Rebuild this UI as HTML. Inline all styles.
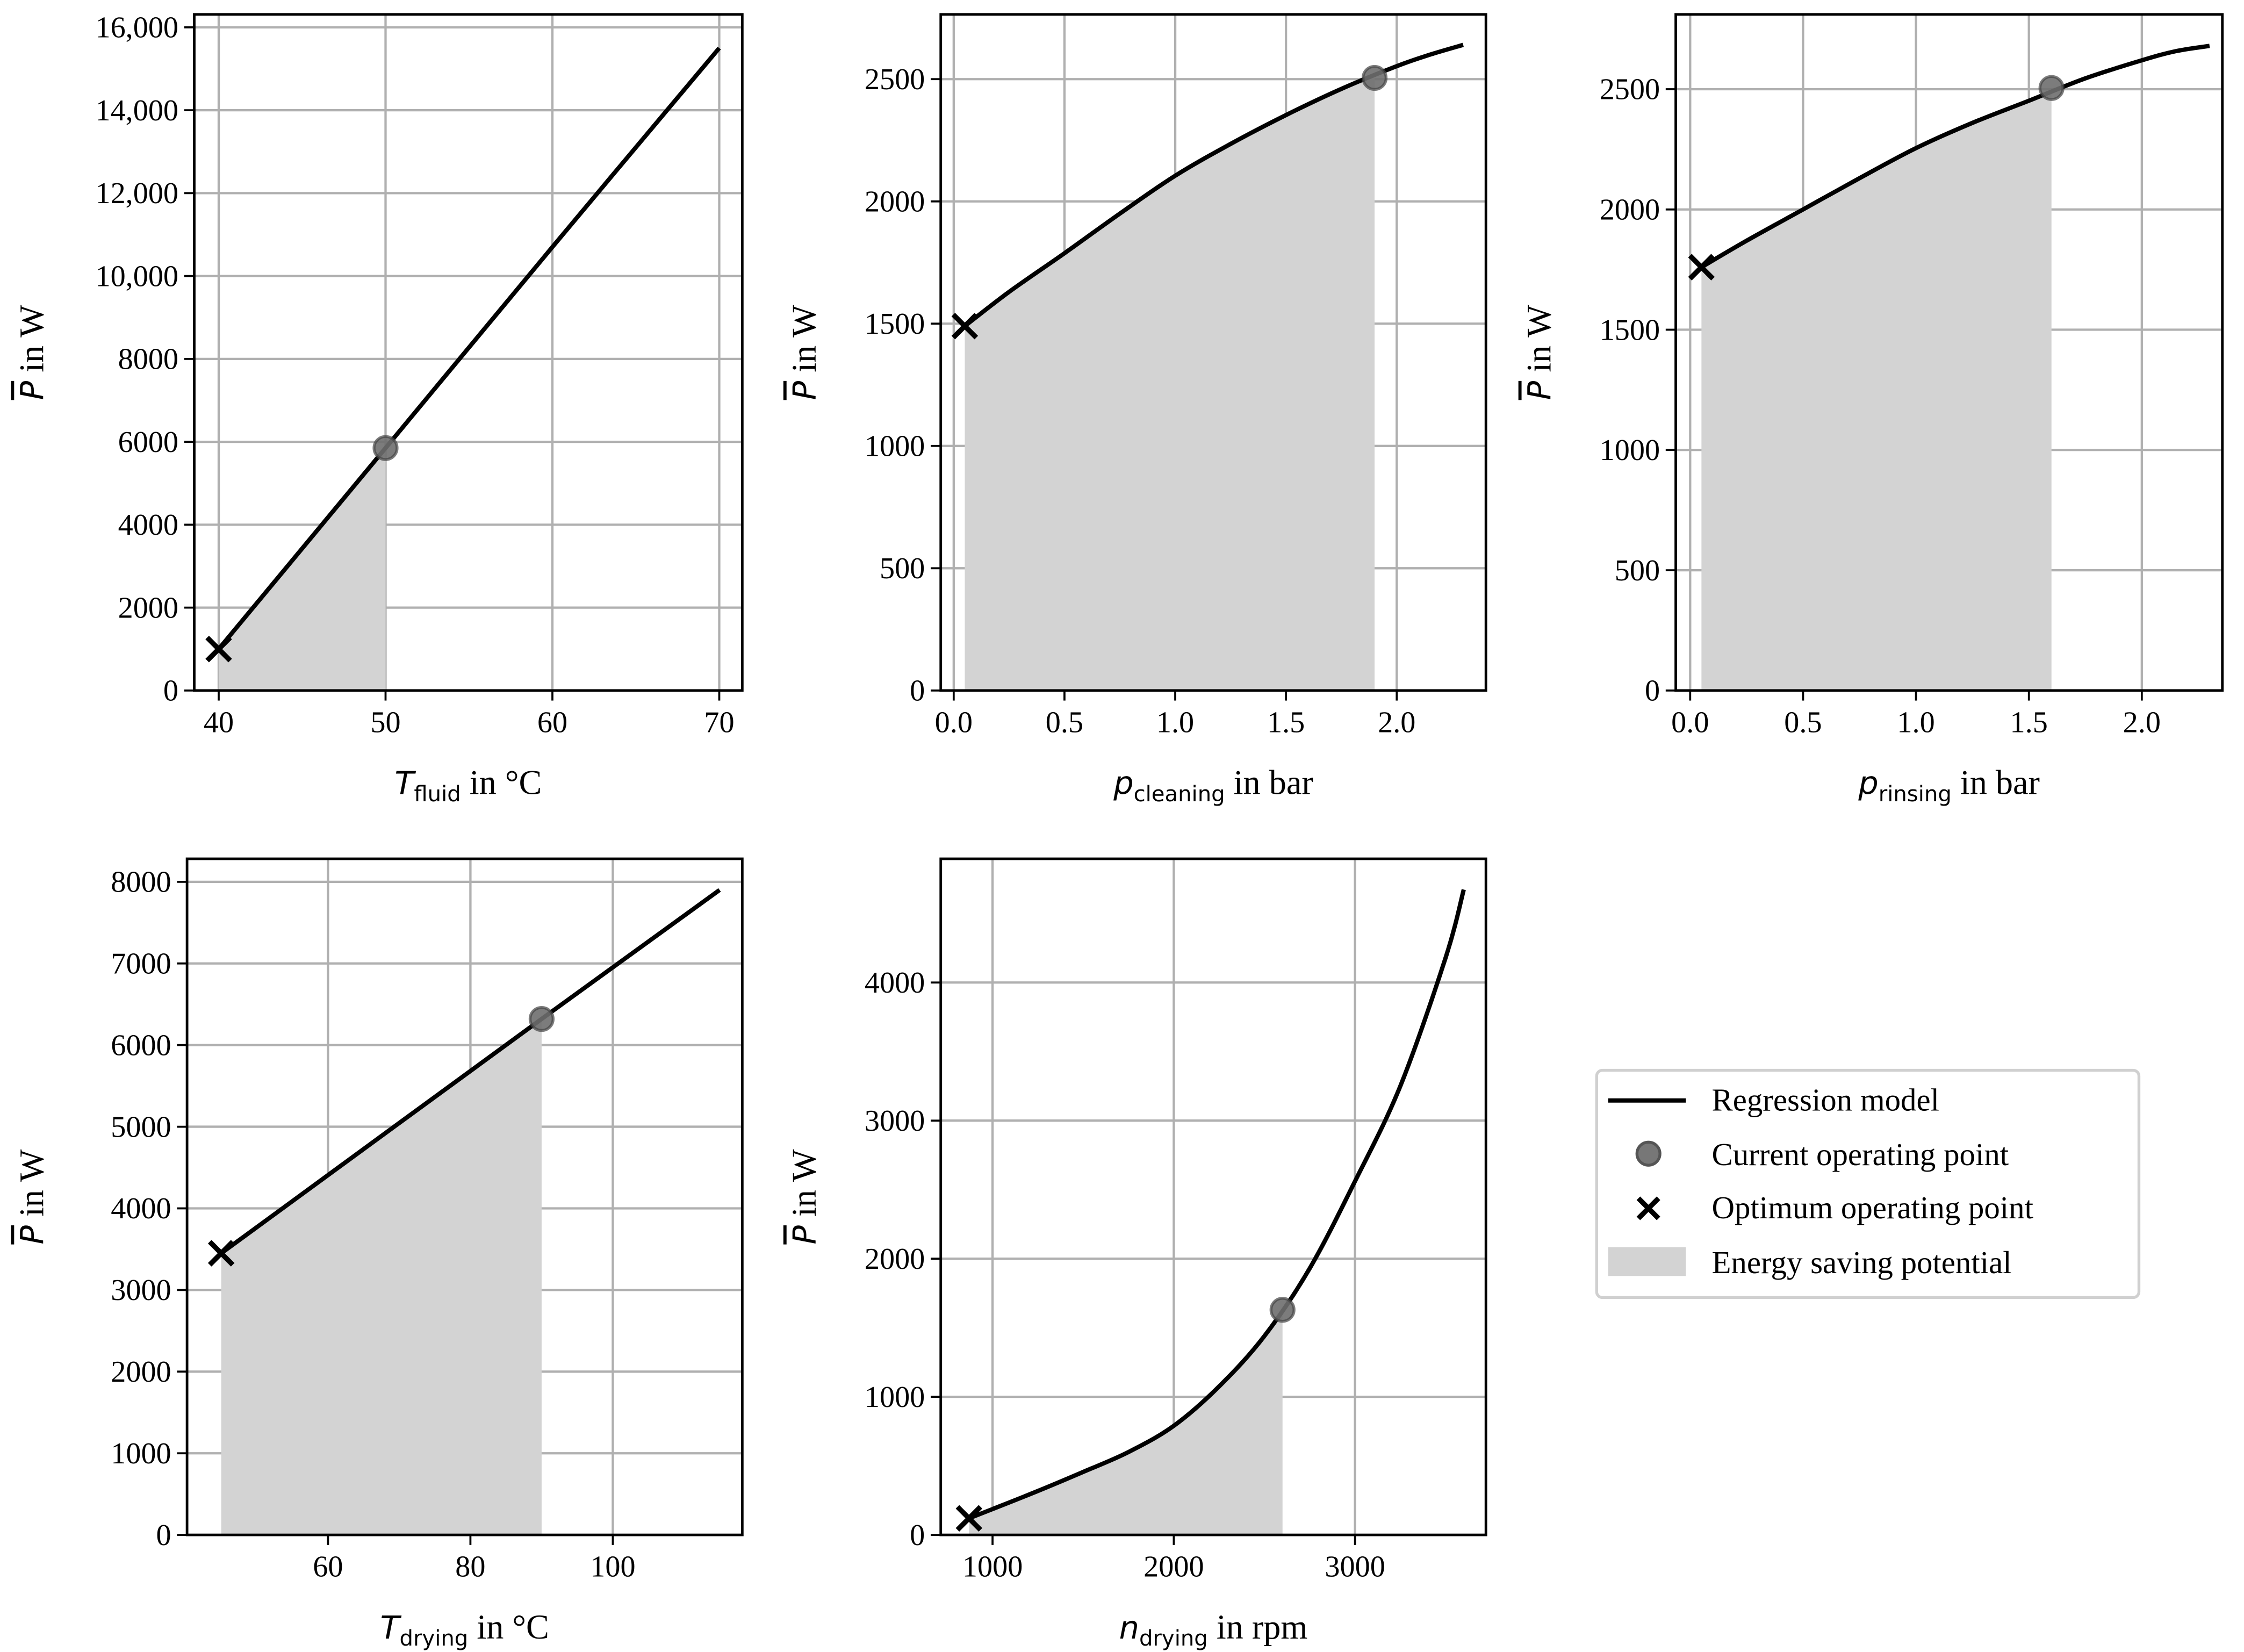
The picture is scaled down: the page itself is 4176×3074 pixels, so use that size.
<!DOCTYPE html>
<html><head><meta charset="utf-8"><style>
html,body{margin:0;padding:0;background:#fff}
svg{display:block}
text{font-family:"Liberation Serif",serif;fill:#000}
</style></head><body>
<svg id="fig" xmlns="http://www.w3.org/2000/svg" width="4176" height="3074" viewBox="0 0 1560 1148.4">
<rect width="1560" height="1148.4" fill="#fff"/>
<g id="legend">
  <rect x="1110" y="744" width="377" height="158" rx="4" fill="#fff" stroke="#d0d0d0" stroke-width="2"/>
  <g><line x1="1118" y1="765" x2="1172" y2="765" stroke="#000" stroke-width="3"/><text x="1190" y="772" font-size="22">Regression model</text></g>
  <g><circle cx="1146" cy="802" r="8" fill="#777" stroke="#555" stroke-width="2"/><text x="1190" y="810" font-size="22">Current operating point</text></g>
  <g><path d="M1139,833 L1153,847 M1153,833 L1139,847" stroke="#000" stroke-width="3.5"/><text x="1190" y="847" font-size="22">Optimum operating point</text></g>
  <g><rect x="1118" y="867" width="54" height="20" fill="#d3d3d3"/><text x="1190" y="885" font-size="22">Energy saving potential</text></g>
</g>
</svg>
<script>
// Panel 1: T_fluid
const p1X = [40, 50, 60, 70];
const p1Y = [1000, 5850, 10700, 15500];
const p1XTicks = [40, 50, 60, 70];
const p1YTicks = [0, 2000, 4000, 6000, 8000, 10000, 12000, 14000, 16000];
const p1YTickLabels = ["0","2000","4000","6000","8000","10,000","12,000","14,000","16,000"];
const p1Current = [50, 5850];
const p1Optimum = [40, 1000];
// Panel 2: p_cleaning
const p2X = [0.05, 0.25, 0.5, 0.75, 1.0, 1.25, 1.5, 1.75, 2.0, 2.15, 2.3];
const p2Y = [1490, 1630, 1788, 1950, 2105, 2235, 2353, 2460, 2553, 2600, 2640];
const p2XTicks = [0, 0.5, 1.0, 1.5, 2.0];
const p2XTickLabels = ["0.0","0.5","1.0","1.5","2.0"];
const p2YTicks = [0, 500, 1000, 1500, 2000, 2500];
const p2Current = [1.9, 2505];
const p2Optimum = [0.05, 1490];
// Panel 3: p_rinsing
const p3X = [0.05, 0.25, 0.5, 0.75, 1.0, 1.25, 1.5, 1.75, 2.0, 2.15, 2.3];
const p3Y = [1760, 1870, 2000, 2130, 2255, 2360, 2452, 2545, 2620, 2658, 2680];
const p3XTicks = [0, 0.5, 1.0, 1.5, 2.0];
const p3XTickLabels = ["0.0","0.5","1.0","1.5","2.0"];
const p3YTicks = [0, 500, 1000, 1500, 2000, 2500];
const p3Current = [1.6, 2505];
const p3Optimum = [0.05, 1760];
// Panel 4: T_drying
const p4X = [45, 90, 115];
const p4Y = [3450, 6320, 7900];
const p4XTicks = [60, 80, 100];
const p4YTicks = [0, 1000, 2000, 3000, 4000, 5000, 6000, 7000, 8000];
const p4Current = [90, 6320];
const p4Optimum = [45, 3450];
// Panel 5: n_drying
const p5X = [870, 1000, 1250, 1500, 1750, 2000, 2250, 2500, 2750, 3000, 3250, 3500, 3600];
const p5Y = [120, 187, 318, 456, 600, 790, 1075, 1440, 1930, 2561, 3250, 4180, 4673];
const p5XTicks = [1000, 2000, 3000];
const p5YTicks = [0, 1000, 2000, 3000, 4000];
const p5Current = [2600, 1630];
const p5Optimum = [870, 120];

const NS = "http://www.w3.org/2000/svg";
const fig = document.getElementById("fig");
function mk(tag, attrs, parent) {
  const e = document.createElementNS(NS, tag);
  for (const k in attrs) e.setAttribute(k, attrs[k]);
  parent.appendChild(e);
  return e;
}
function catmull(pts) {
  let d = "M" + pts[0][0] + "," + pts[0][1];
  for (let i = 0; i < pts.length - 1; i++) {
    const p0 = pts[Math.max(0, i - 1)], p1 = pts[i], p2 = pts[i + 1], p3 = pts[Math.min(pts.length - 1, i + 2)];
    const c1 = [p1[0] + (p2[0] - p0[0]) / 6, p1[1] + (p2[1] - p0[1]) / 6];
    const c2 = [p2[0] - (p3[0] - p1[0]) / 6, p2[1] - (p3[1] - p1[1]) / 6];
    d += " C" + c1[0] + "," + c1[1] + " " + c2[0] + "," + c2[1] + " " + p2[0] + "," + p2[1];
  }
  return d;
}
function interp(xs, ys, x) {
  for (let i = 0; i < xs.length - 1; i++) if (x >= xs[i] && x <= xs[i + 1]) return ys[i] + (ys[i + 1] - ys[i]) * (x - xs[i]) / (xs[i + 1] - xs[i]);
  return ys[ys.length - 1];
}
function panel(cfg) {
  const g = mk("g", {}, fig);
  
  
  const sx = v => cfg.px0 + (v - cfg.x0) / (cfg.x1 - cfg.x0) * (cfg.px1 - cfg.px0);
  const sy = v => cfg.py0 + (v - cfg.y0) / (cfg.y1 - cfg.y0) * (cfg.py1 - cfg.py0);
  const F = cfg.frame;
  cfg.xt.forEach((t, i) => {
    const l = mk("line", {x1: sx(t), x2: sx(t), y1: F[1], y2: F[3], stroke: "#b0b0b0", "stroke-width": 1.6}, g);
    
    
    mk("line", {x1: sx(t), x2: sx(t), y1: F[3], y2: F[3] + 7, stroke: "#000", "stroke-width": 1.4}, g);
    const tx = mk("text", {x: sx(t), y: F[3] + 29, "font-size": 21, "text-anchor": "middle"}, g);
    
    
    tx.textContent = cfg.xtl ? cfg.xtl[i] : String(t);
  });
  cfg.yt.forEach((t, i) => {
    const l = mk("line", {x1: F[0], x2: F[2], y1: sy(t), y2: sy(t), stroke: "#b0b0b0", "stroke-width": 1.6}, g);
    
    
    mk("line", {x1: F[0] - 7, x2: F[0], y1: sy(t), y2: sy(t), stroke: "#000", "stroke-width": 1.4}, g);
    const tx = mk("text", {x: F[0] - 11, y: sy(t) + 7, "font-size": 21, "text-anchor": "end"}, g);
    
    
    tx.textContent = cfg.ytl ? cfg.ytl[i] : String(t);
  });
  const xa = cfg.opt[0], xb = cfg.cur[0];
  const fp = [];
  const N = 80;
  for (let k = 0; k <= N; k++) { const x = xa + (xb - xa) * k / N; fp.push(sx(x) + "," + sy(interp(cfg.xs, cfg.ys, x))); }
  fp.push(sx(xb) + "," + sy(0)); fp.push(sx(xa) + "," + sy(0));
  const fill = mk("polygon", {points: fp.join(" "), fill: "#d3d3d3"}, g);
  
  
  const pts = cfg.xs.map((x, i) => [sx(x), sy(cfg.ys[i])]);
  const line = mk("path", {d: catmull(pts), fill: "none", stroke: "#000", "stroke-width": 3}, g);
  
  
  const c = mk("circle", {cx: sx(cfg.cur[0]), cy: sy(cfg.cur[1]), r: 8, fill: "#6e6e6e", "fill-opacity": 0.9, stroke: "#444", "stroke-opacity": 0.7, "stroke-width": 2}, g);
  
  
  const ox = sx(cfg.opt[0]), oy = sy(cfg.opt[1]);
  const x = mk("path", {d: `M${ox-8},${oy-8} L${ox+8},${oy+8} M${ox+8},${oy-8} L${ox-8},${oy+8}`, stroke: "#000", "stroke-width": 3.5}, g);
  
  
  const fr = mk("rect", {x: F[0], y: F[1], width: F[2] - F[0], height: F[3] - F[1], fill: "none", stroke: "#000", "stroke-width": 1.8}, g);
  
  
  const xl = mk("text", {x: (F[0] + F[2]) / 2, y: F[3] + 72, "font-size": 24, "text-anchor": "middle"}, g);
  
  
  xl.innerHTML = `<tspan font-style="italic" font-family="DejaVu Sans" font-size="22">${cfg.xv}</tspan><tspan font-family="DejaVu Sans" font-size="15" dy="5">${cfg.xsub}</tspan><tspan dy="-5"> in ${cfg.xunit}</tspan>`;
  const cy = (F[1] + F[3]) / 2, lx = cfg.ylx;
  const yl = mk("text", {x: lx, y: cy, "font-size": 24, "text-anchor": "middle", transform: `rotate(-90 ${lx} ${cy})`}, g);
  
  
  yl.innerHTML = `<tspan font-style="italic" font-family="DejaVu Sans" font-size="22" text-decoration="overline">P</tspan> in W`;
}
panel({name: "panel-t-fluid", frame: [135, 10, 516, 480], x0: 40, x1: 70, px0: 152, px1: 500, y0: 0, y1: 16000, py0: 480, py1: 19,
  xt: p1XTicks, yt: p1YTicks, ytl: p1YTickLabels, xs: p1X, ys: p1Y, cur: p1Current, opt: p1Optimum, xv: "T", xsub: "fluid", xunit: "°C", ylx: 30});
panel({name: "panel-p-cleaning", frame: [654, 10, 1033, 480], x0: 0, x1: 2, px0: 663, px1: 971, y0: 0, y1: 2500, py0: 480, py1: 55,
  xt: p2XTicks, xtl: p2XTickLabels, yt: p2YTicks, xs: p2X, ys: p2Y, cur: p2Current, opt: p2Optimum, xv: "p", xsub: "cleaning", xunit: "bar", ylx: 567});
panel({name: "panel-p-rinsing", frame: [1165, 10, 1545, 480], x0: 0, x1: 2, px0: 1175, px1: 1489, y0: 0, y1: 2500, py0: 480, py1: 62,
  xt: p3XTicks, xtl: p3XTickLabels, yt: p3YTicks, xs: p3X, ys: p3Y, cur: p3Current, opt: p3Optimum, xv: "p", xsub: "rinsing", xunit: "bar", ylx: 1078});
panel({name: "panel-t-drying", frame: [130, 597, 516, 1067], x0: 60, x1: 100, px0: 228, px1: 426, y0: 0, y1: 8000, py0: 1067, py1: 613,
  xt: p4XTicks, yt: p4YTicks, xs: p4X, ys: p4Y, cur: p4Current, opt: p4Optimum, xv: "T", xsub: "drying", xunit: "°C", ylx: 30});
panel({name: "panel-n-drying", frame: [654, 597, 1033, 1067], x0: 1000, x1: 3000, px0: 690, px1: 942, y0: 0, y1: 4000, py0: 1067, py1: 683,
  xt: p5XTicks, yt: p5YTicks, xs: p5X, ys: p5Y, cur: p5Current, opt: p5Optimum, xv: "n", xsub: "drying", xunit: "rpm", ylx: 567});
fig.appendChild(document.getElementById("legend"));
</script>
</body></html>
